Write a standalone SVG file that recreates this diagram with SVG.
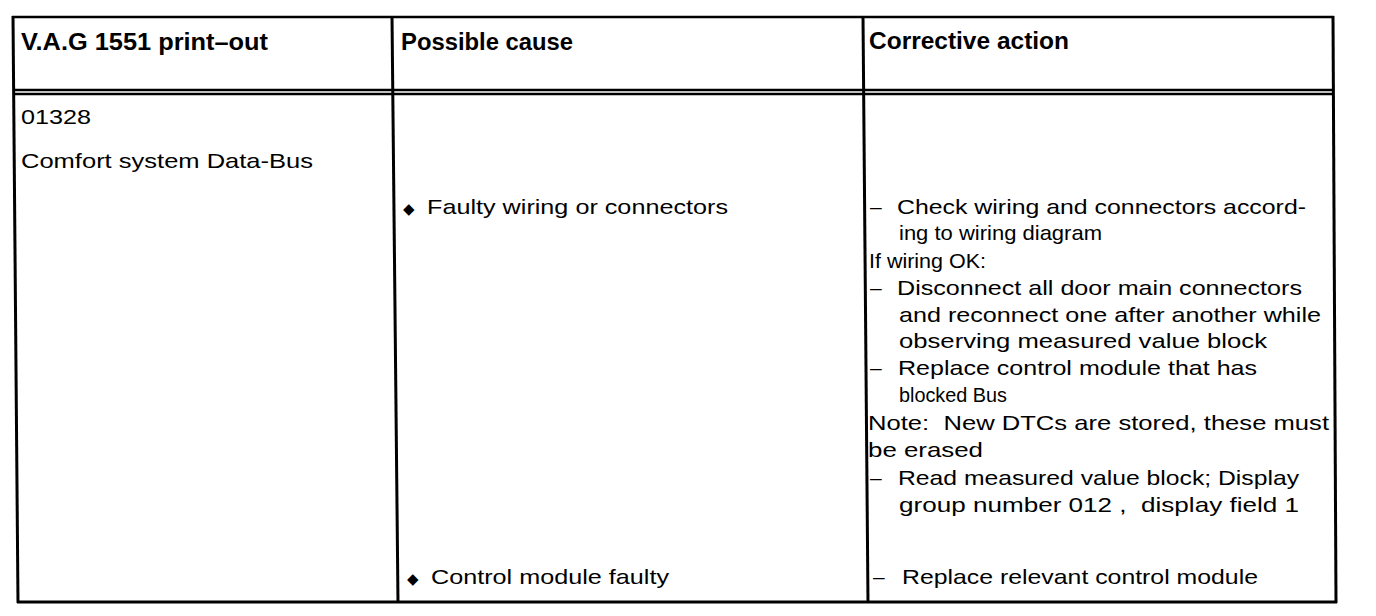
<svg xmlns="http://www.w3.org/2000/svg" width="1376" height="616" viewBox="0 0 1376 616">
<style>
.t{font-family:"Liberation Sans",Arial,sans-serif;font-size:21px;fill:#000}
.h{font-family:"Liberation Sans",Arial,sans-serif;font-size:23px;font-weight:bold;fill:#000}
.b{font-family:"DejaVu Sans",sans-serif;font-size:15px;fill:#000}
.ln{stroke:#000;stroke-width:3;fill:none}
.ld{stroke:#000;stroke-width:2.4;fill:none}
</style>
<rect width="1376" height="616" fill="#fff"/>
<g id="grid">
<line class="ld" x1="12" y1="17" x2="1334" y2="17"/>
<line class="ln" x1="13" y1="16" x2="18" y2="603"/>
<line class="ln" x1="392" y1="16" x2="398" y2="603"/>
<line class="ln" x1="863" y1="16" x2="868" y2="603"/>
<line class="ln" x1="1333" y1="16" x2="1336" y2="603"/>
<line class="ld" x1="13" y1="90" x2="1334" y2="90"/>
<line class="ld" x1="13" y1="94" x2="1334" y2="94"/>
<line class="ln" x1="17" y1="602" x2="1337" y2="602"/>
</g>
<g id="header-printout"><text class="h" x="21" y="50" textLength="247" lengthAdjust="spacingAndGlyphs">V.A.G 1551 print–out</text></g>
<g id="header-cause"><text class="h" x="401" y="50" textLength="172" lengthAdjust="spacingAndGlyphs">Possible cause</text></g>
<g id="header-action"><text class="h" x="869" y="49" textLength="200" lengthAdjust="spacingAndGlyphs">Corrective action</text></g>
<g id="cell-printout">
<text class="t" x="21" y="124" textLength="70" lengthAdjust="spacingAndGlyphs">01328</text>
<text class="t" x="21" y="168" textLength="292" lengthAdjust="spacingAndGlyphs">Comfort system Data-Bus</text>
</g>
<g id="cell-cause">
<text class="b" x="403" y="214">◆</text>
<text class="t" x="427" y="214" textLength="301" lengthAdjust="spacingAndGlyphs">Faulty wiring or connectors</text>
<text class="b" x="407" y="584">◆</text>
<text class="t" x="431" y="584" textLength="238" lengthAdjust="spacingAndGlyphs">Control module faulty</text>
</g>
<g id="cell-action">
<text class="t" x="870" y="214">–</text>
<text class="t" x="897" y="214" textLength="409" lengthAdjust="spacingAndGlyphs">Check wiring and connectors accord-</text>
<text class="t" x="899" y="240" textLength="203" lengthAdjust="spacingAndGlyphs">ing to wiring diagram</text>
<text class="t" x="869" y="268" textLength="117" lengthAdjust="spacingAndGlyphs">If wiring OK:</text>
<text class="t" x="870" y="295">–</text>
<text class="t" x="897" y="295" textLength="405" lengthAdjust="spacingAndGlyphs">Disconnect all door main connectors</text>
<text class="t" x="899" y="322" textLength="422" lengthAdjust="spacingAndGlyphs">and reconnect one after another while</text>
<text class="t" x="899" y="348" textLength="368" lengthAdjust="spacingAndGlyphs">observing measured value block</text>
<text class="t" x="870" y="375">–</text>
<text class="t" x="898" y="375" textLength="359" lengthAdjust="spacingAndGlyphs">Replace control module that has</text>
<text class="t" x="899" y="402" textLength="108" lengthAdjust="spacingAndGlyphs">blocked Bus</text>
<text class="t" x="868" y="430" textLength="461" lengthAdjust="spacingAndGlyphs" xml:space="preserve">Note:  New DTCs are stored, these must</text>
<text class="t" x="868" y="457" textLength="115" lengthAdjust="spacingAndGlyphs">be erased</text>
<text class="t" x="870" y="485">–</text>
<text class="t" x="898" y="485" textLength="401" lengthAdjust="spacingAndGlyphs">Read measured value block; Display</text>
<text class="t" x="899" y="512" textLength="400" lengthAdjust="spacingAndGlyphs" xml:space="preserve">group number 012 ,  display field 1</text>
<text class="t" x="873" y="584">–</text>
<text class="t" x="902" y="584" textLength="356" lengthAdjust="spacingAndGlyphs">Replace relevant control module</text>
</g>
</svg>
